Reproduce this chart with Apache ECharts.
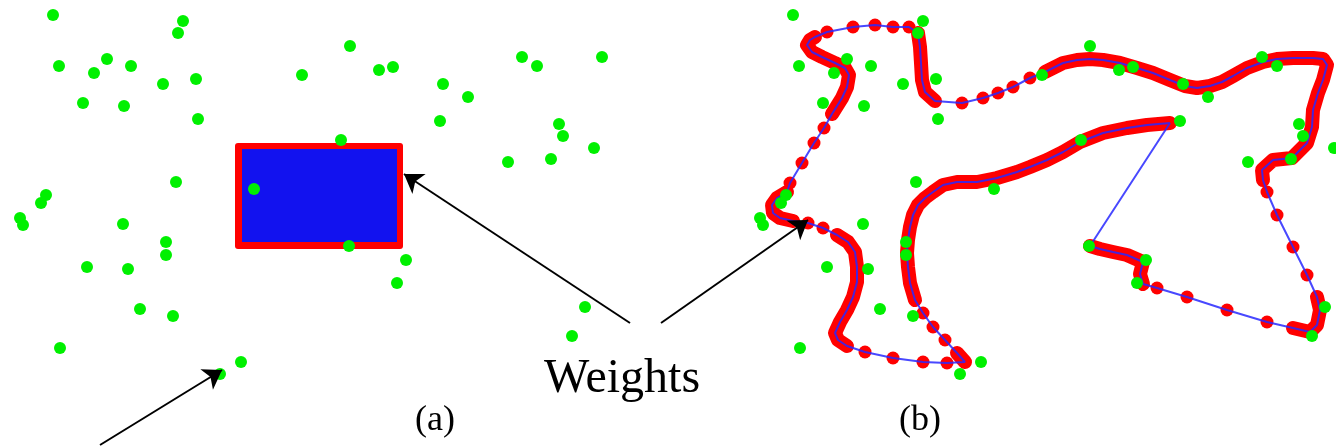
<!DOCTYPE html>
<html>
<head>
<meta charset="utf-8">
<script src="https://cdn.jsdelivr.net/npm/echarts@6/dist/echarts.min.js"></script>
<style>
  html, body { margin: 0; padding: 0; background: #ffffff; }
  #chart { width: 1336px; height: 447px; }
</style>
</head>
<body>
<div id="chart"></div>
<script>
// Input sites, shared by both panels (panel-local pixel units, y grows downward)
const sites = [
  [53, 15], [183, 21], [178, 33], [59, 66], [107, 59], [131, 66], [94, 73],
  [163, 84], [196, 79], [83, 103], [124, 106], [198, 119], [302, 75], [350, 46],
  [379, 70], [393, 67], [443, 84], [468, 97], [440, 121], [522, 57], [537, 66],
  [602, 57], [559, 124], [563, 136], [594, 148], [508, 162], [551, 159], [341, 140],
  [176, 182], [46, 195], [41, 203], [20, 218], [23, 225], [254, 189], [123, 224],
  [166, 242], [166, 255], [87, 267], [128, 269], [349, 246], [406, 260], [397, 283],
  [140, 309], [173, 316], [60, 348], [241, 362], [220, 374], [585, 307], [572, 336]
];

// Panel (a): ring of weights and the tangled tour they enclose (corner pairs)
const weightRingA = [[235, 143], [403, 249]];
const tourBoxA = [[242, 149], [397, 242]];

// Panel (b): closed tour through the weights, [x, y, kind]
// kind 1 = densely packed weights, 2 = a single isolated weight
const tourB = [
  [430, 123, 1], [407, 125, 1], [387, 128, 1], [363, 133, 1], [340, 142, 1], [323, 152, 1],
  [307, 160, 1], [290, 167, 1], [277, 172, 1], [257, 178, 1], [237, 182, 1], [217, 182, 1],
  [203, 185, 1], [193, 192, 1], [185, 198, 1], [178, 205, 1], [173, 215, 1], [170, 227, 1],
  [168, 240, 1], [167, 253, 1], [168, 267, 1], [170, 283, 1], [175, 300, 1], [183, 313, 2],
  [193, 327, 2], [205, 340, 2], [217, 353, 1], [225, 362, 1], [207, 363, 2], [183, 362, 2],
  [153, 358, 2], [125, 352, 2], [107, 346, 1], [98, 340, 1], [95, 333, 1], [100, 322, 1],
  [107, 310, 1], [113, 297, 1], [117, 282, 1], [117, 267, 1], [115, 252, 1], [108, 242, 1],
  [97, 235, 1], [83, 228, 2], [68, 223, 2], [53, 221, 1], [40, 218, 1], [33, 213, 1],
  [32, 205, 1], [37, 198, 1], [47, 192, 1], [50, 183, 2], [62, 163, 2], [74, 143, 2],
  [84, 128, 2], [92, 114, 1], [102, 98, 1], [107, 87, 1], [109, 75, 1], [105, 68, 1],
  [95, 63, 1], [82, 57, 1], [72, 52, 1], [67, 45, 1], [70, 40, 1], [75, 37, 1],
  [87, 32, 2], [113, 27, 2], [135, 25, 2], [153, 27, 2], [169, 27, 2], [178, 33, 1],
  [180, 47, 1], [181, 63, 1], [182, 80, 1], [185, 92, 1], [195, 101, 1], [222, 103, 2],
  [243, 98, 2], [258, 93, 2], [273, 87, 2], [290, 78, 2], [305, 72, 1], [323, 63, 1],
  [337, 60, 1], [350, 59, 1], [363, 60, 1], [380, 63, 1], [397, 68, 1], [413, 73, 1],
  [430, 80, 1], [445, 86, 1], [457, 88, 1], [470, 86, 1], [482, 82, 1], [493, 76, 1],
  [507, 68, 1], [523, 62, 1], [537, 59, 1], [553, 58, 1], [573, 58, 1], [583, 59, 1],
  [587, 65, 1], [583, 80, 1], [578, 93, 1], [573, 110, 1], [572, 127, 1], [567, 143, 1],
  [552, 158, 1], [533, 160, 1], [522, 170, 1], [523, 180, 1], [527, 192, 2], [537, 215, 2],
  [553, 247, 2], [567, 275, 2], [577, 297, 1], [580, 310, 1], [577, 325, 1], [570, 332, 1],
  [553, 328, 1], [527, 322, 2], [487, 310, 2], [447, 297, 2], [417, 288, 2], [403, 284, 1],
  [400, 274, 1], [403, 262, 1], [387, 255, 1], [373, 252, 1], [360, 249, 1], [350, 246, 1]
];

// Pointer arrows (from, to) in page units
const arrowFrom = [[630, 323], [661, 323], [100, 445]];
const arrowTo = [[404, 174], [808, 220], [222, 370]];

// Captions: text, anchor x, anchor y, font size
const captionText = ['Weights', '(a)', '(b)'];
const captionPos = [[622, 379], [435, 421], [920, 421]];
const captionSize = [48, 36, 36];

const GREEN = '#00f000';
const RED = '#ff0000';

const bandB = tourB.map(p => (p[2] === 1 ? [p[0], p[1]] : ['-', '-']));
const singleB = tourB.filter(p => p[2] === 2).map(p => [p[0], p[1]]);
const loopB = tourB.map(p => [p[0], p[1]]).concat([[tourB[0][0], tourB[0][1]]]);

const chart = echarts.init(document.getElementById('chart'), null, { renderer: 'canvas' });

const hiddenX = (max) => ({ type: 'value', min: 0, max: max, show: false, splitLine: { show: false } });
const hiddenY = (grid) => ({ type: 'value', min: 0, max: 447, inverse: true, show: false, gridIndex: grid, splitLine: { show: false } });

chart.setOption({
  animation: false,
  backgroundColor: '#ffffff',
  grid: [
    { left: 0, top: 0, width: 1336, height: 447 },
    { left: 740, top: 0, width: 596, height: 447 }
  ],
  xAxis: [Object.assign(hiddenX(1336), { gridIndex: 0 }), Object.assign(hiddenX(596), { gridIndex: 1 })],
  yAxis: [hiddenY(0), hiddenY(1)],
  series: [
    {
      // weight ring (red) and the tour filling it (blue)
      type: 'custom',
      xAxisIndex: 0, yAxisIndex: 0,
      data: [
        [weightRingA[0][0], weightRingA[0][1], weightRingA[1][0], weightRingA[1][1]],
        [tourBoxA[0][0], tourBoxA[0][1], tourBoxA[1][0], tourBoxA[1][1]]
      ],
      renderItem: function (params, api) {
        const a = api.coord([api.value(0), api.value(1)]);
        const b = api.coord([api.value(2), api.value(3)]);
        const isRing = params.dataIndex === 0;
        return {
          type: 'rect',
          shape: { x: a[0], y: a[1], width: b[0] - a[0], height: b[1] - a[1], r: isRing ? 3 : 0 },
          style: { fill: isRing ? RED : '#1212ef' }
        };
      },
      z: 1
    },
    {
      type: 'scatter',
      xAxisIndex: 0, yAxisIndex: 0,
      data: sites,
      symbol: 'circle',
      symbolSize: 12,
      itemStyle: { color: GREEN, opacity: 1 },
      z: 3
    },
    {
      type: 'line',
      xAxisIndex: 1, yAxisIndex: 1,
      data: bandB,
      symbol: 'none',
      connectNulls: false,
      lineStyle: { color: RED, width: 14, cap: 'round', join: 'round', opacity: 1 },
      z: 1
    },
    {
      type: 'scatter',
      xAxisIndex: 1, yAxisIndex: 1,
      data: singleB,
      symbol: 'circle',
      symbolSize: 13,
      itemStyle: { color: RED, opacity: 1 },
      z: 1
    },
    {
      type: 'line',
      xAxisIndex: 1, yAxisIndex: 1,
      data: loopB,
      symbol: 'none',
      lineStyle: { color: 'rgba(40,40,255,0.85)', width: 2 },
      z: 2
    },
    {
      type: 'scatter',
      xAxisIndex: 1, yAxisIndex: 1,
      data: sites,
      clip: false,
      symbol: 'circle',
      symbolSize: 12,
      itemStyle: { color: GREEN, opacity: 1 },
      z: 3
    },
    {
      type: 'lines',
      coordinateSystem: 'cartesian2d',
      xAxisIndex: 0, yAxisIndex: 0,
      data: arrowFrom.map((f, i) => ({ coords: [f, arrowTo[i]] })),
      symbol: ['none', 'arrow'],
      symbolSize: [13, 18],
      lineStyle: { color: '#000000', width: 2, opacity: 1, curveness: 0 },
      itemStyle: { color: '#000000' },
      z: 4
    },
    {
      type: 'scatter',
      xAxisIndex: 0, yAxisIndex: 0,
      data: captionPos.map((p, i) => ({
        value: p,
        label: {
          show: true,
          formatter: captionText[i],
          position: 'inside',
          color: '#000000',
          opacity: 1,
          fontFamily: 'Liberation Serif, Times New Roman, serif',
          fontSize: captionSize[i]
        }
      })),
      symbolSize: 0,
      itemStyle: { opacity: 1 },
      silent: true,
      z: 5
    }
  ]
});
</script>
</body>
</html>
